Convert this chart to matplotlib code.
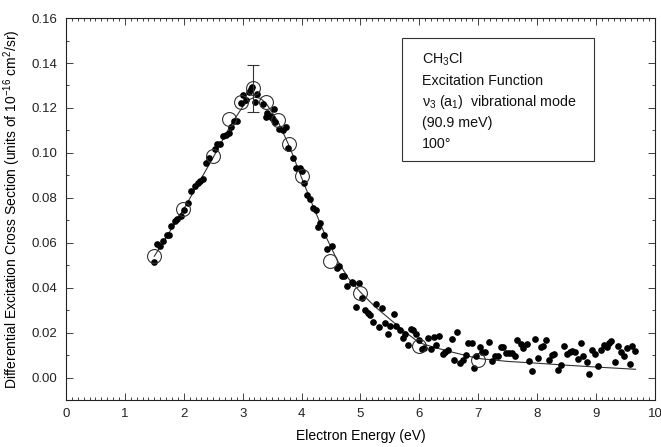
import matplotlib
matplotlib.use("Agg")
import matplotlib.pyplot as plt
from matplotlib.ticker import MultipleLocator, FormatStrFormatter

plt.rcParams['font.family'] = ['Liberation Sans', 'DejaVu Sans']
plt.rcParams['mathtext.default'] = 'regular'

# Dense measurement (filled dots)
dot_E = [1.50, 1.55, 1.60, 1.65, 1.71, 1.75, 1.79, 1.85, 1.89, 1.95, 2.00, 2.08, 2.13, 2.19,
         2.25, 2.28, 2.32, 2.38, 2.43, 2.53, 2.57, 2.61, 2.67, 2.72, 2.76, 2.81, 2.85, 2.90,
         2.97, 3.00, 3.06, 3.11, 3.14, 3.16, 3.21, 3.25, 3.34, 3.40, 3.42, 3.46, 3.49, 3.53,
         3.55, 3.62, 3.69, 3.74, 3.77, 3.85, 3.90, 3.97, 4.00, 4.04, 4.10, 4.14, 4.20, 4.25,
         4.28, 4.32, 4.38, 4.44, 4.51, 4.60, 4.64, 4.68, 4.72, 4.78, 4.85, 4.88, 4.92, 4.98,
         5.02, 5.08, 5.13, 5.17, 5.22, 5.27, 5.32, 5.36, 5.42, 5.47, 5.51, 5.57, 5.61, 5.67,
         5.72, 5.76, 5.81, 5.85, 5.90, 5.95, 6.00, 6.04, 6.08, 6.15, 6.20, 6.25, 6.29, 6.34,
         6.40, 6.43, 6.49, 6.55, 6.59, 6.64, 6.69, 6.74, 6.79, 6.83, 6.89, 6.93, 6.97, 7.03,
         7.07, 7.11, 7.18, 7.23, 7.28, 7.34, 7.38, 7.42, 7.47, 7.52, 7.57, 7.62, 7.66, 7.72,
         7.76, 7.82, 7.87, 7.92, 7.96, 8.02, 8.06, 8.10, 8.15, 8.20, 8.25, 8.29, 8.36, 8.40,
         8.45, 8.50, 8.55, 8.60, 8.64, 8.69, 8.74, 8.78, 8.84, 8.88, 8.94, 8.98, 9.04, 9.08,
         9.13, 9.18, 9.22, 9.26, 9.33, 9.38, 9.42, 9.47, 9.52, 9.58, 9.61, 9.67]
dot_S = [0.0513, 0.0596, 0.0584, 0.0606, 0.0636, 0.0636, 0.0673, 0.0698, 0.0705, 0.0720,
         0.0747, 0.0779, 0.0830, 0.0853, 0.0865, 0.0877, 0.0883, 0.0954, 0.0976, 0.1016,
         0.1039, 0.1039, 0.1076, 0.1080, 0.1087, 0.1114, 0.1144, 0.1144, 0.1224, 0.1258,
         0.1236, 0.1273, 0.1283, 0.1292, 0.1228, 0.1262, 0.1218, 0.1161, 0.1176, 0.1164,
         0.1154, 0.1194, 0.1139, 0.1105, 0.1102, 0.1117, 0.1021, 0.0976, 0.0932, 0.0932,
         0.0921, 0.0865, 0.0813, 0.0794, 0.0754, 0.0747, 0.0670, 0.0690, 0.0636, 0.0572,
         0.0584, 0.0487, 0.0495, 0.0450, 0.0450, 0.0409, 0.0424, 0.0421, 0.0314, 0.0421,
         0.0353, 0.0302, 0.0287, 0.0280, 0.0249, 0.0329, 0.0225, 0.0310, 0.0243, 0.0196,
         0.0231, 0.0284, 0.0228, 0.0210, 0.0175, 0.0196, 0.0144, 0.0216, 0.0210, 0.0193,
         0.0169, 0.0127, 0.0132, 0.0176, 0.0127, 0.0181, 0.0147, 0.0184, 0.0107, 0.0114,
         0.0124, 0.0172, 0.0077, 0.0201, 0.0065, 0.0077, 0.0102, 0.0154, 0.0154, 0.0041,
         0.0095, 0.0136, 0.0113, 0.0114, 0.0159, 0.0073, 0.0095, 0.0098, 0.0135, 0.0135,
         0.0110, 0.0110, 0.0110, 0.0095, 0.0169, 0.0151, 0.0132, 0.0148, 0.0073, 0.0031,
         0.0172, 0.0087, 0.0136, 0.0139, 0.0169, 0.0080, 0.0102, 0.0107, 0.0033, 0.0058,
         0.0142, 0.0107, 0.0113, 0.0117, 0.0114, 0.0083, 0.0154, 0.0095, 0.0070, 0.0018,
         0.0121, 0.0107, 0.0050, 0.0121, 0.0147, 0.0136, 0.0154, 0.0161, 0.0068, 0.0139,
         0.0116, 0.0098, 0.0133, 0.0059, 0.0142, 0.0117]

# Normalized absolute points (open circles)
circ_E = [1.50, 1.99, 2.49, 2.77, 2.98, 3.18, 3.40, 3.60, 3.79, 4.00, 4.49, 4.99, 6.00, 7.00]
circ_S = [0.0539, 0.0750, 0.0987, 0.1150, 0.1228, 0.1287, 0.1228, 0.1147, 0.1039, 0.0898,
          0.0521, 0.0377, 0.0139, 0.0080]

# Error bar on the peak point
err_E = [3.18]
err_center = [0.1287]
err_low = [0.1184]
err_high = [0.1391]

# Smooth fitted curve
fit_E = [1.5, 2.0, 2.5, 2.8, 3.0, 3.1, 3.2, 3.3, 3.4, 3.6, 3.8, 4.0, 4.2, 4.4, 4.6, 4.8,
         5.0, 5.25, 5.5, 5.75, 6.0, 6.25, 6.5, 7.0, 7.5, 8.0, 8.5, 9.0, 9.67]
fit_S = [0.054, 0.075, 0.098, 0.1125, 0.1205, 0.1235, 0.1248, 0.1243, 0.1220, 0.1140,
         0.1025, 0.0890, 0.0760, 0.0635, 0.0525, 0.0440, 0.0380, 0.0315, 0.0260, 0.0205,
         0.0155, 0.0135, 0.0117, 0.0085, 0.0072, 0.0064, 0.0055, 0.0047, 0.0037]

fig = plt.figure(figsize=(6.61, 4.47), dpi=100)
ax = fig.add_axes([0.0998, 0.105, 0.891, 0.8546])

ax.plot(fit_E, fit_S, color='#333333', lw=0.8, zorder=2)
ax.plot(dot_E, dot_S, 'o', color='black', ms=3.8, mec='black', zorder=3)
ax.plot(circ_E, circ_S, 'o', mfc='none', mec='#333333', mew=0.8, ms=10, zorder=4)
ax.errorbar(err_E, err_center,
            yerr=[[err_center[0] - err_low[0]], [err_high[0] - err_center[0]]],
            fmt='none', ecolor='#333333', elinewidth=0.8, capsize=4, capthick=0.8, zorder=4)

ax.set_xlim(0, 10)
ax.set_ylim(-0.01, 0.16)
ax.xaxis.set_major_locator(MultipleLocator(1))
ax.xaxis.set_minor_locator(MultipleLocator(0.1))
ax.yaxis.set_major_locator(MultipleLocator(0.02))
ax.yaxis.set_minor_locator(MultipleLocator(0.01))
ax.yaxis.set_major_formatter(FormatStrFormatter('%.2f'))
ax.tick_params(which='both', direction='in', top=True, right=True, labelsize=9.5,
               width=0.6, colors='#222222')
ax.tick_params(which='major', length=5, pad=6)
ax.tick_params(which='minor', length=2.5)
for s in ax.spines.values():
    s.set_linewidth(0.8)
    s.set_color('#222222')

ax.set_xlabel('Electron Energy (eV)', fontsize=10, labelpad=6)
ax.set_ylabel('Differential Excitation Cross Section (units of 10$^{-16}$ cm$^{2}$/sr)',
              fontsize=10, labelpad=6)

box = plt.Rectangle((0.570, 0.626), 0.326, 0.322, transform=ax.transAxes,
                    fill=False, edgecolor='#333333', lw=0.8, zorder=5)
ax.add_patch(box)
lines = ['CH$_{3}$Cl', 'Excitation Function', 'ν$_{3}$ (a$_{1}$)  vibrational mode',
         '(90.9 meV)', '100°']
ys = [0.893, 0.836, 0.781, 0.726, 0.671]
for t, y in zip(lines, ys):
    ax.text(0.604, y, t, transform=ax.transAxes, fontsize=10.3, va='center', ha='left',
            color='#111111')

fig.savefig('out.png', dpi=100)
